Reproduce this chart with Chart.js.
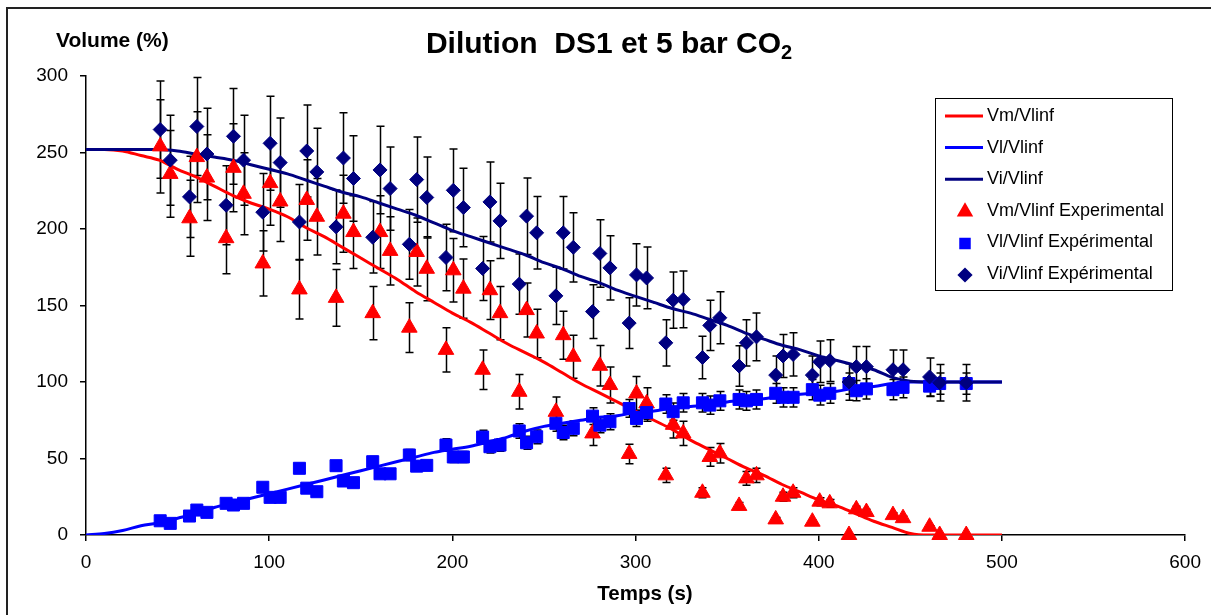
<!DOCTYPE html>
<html>
<head>
<meta charset="utf-8">
<script src="https://cdn.jsdelivr.net/npm/chart.js@4.4.1/dist/chart.umd.min.js"></script>
<style>
  html, body { margin: 0; padding: 0; background: #fff; }
</style>
</head>
<body>
<canvas id="chart" width="1211" height="615"></canvas>
<script>
// model curves, read every 10 s
var modelTime = [0, 10, 20, 30, 40, 50, 60, 70, 80, 90,
  100, 110, 120, 130, 140, 150, 160, 170, 180, 190,
  200, 210, 220, 230, 240, 250, 260, 270, 280, 290,
  300, 310, 320, 330, 340, 350, 360, 370, 380, 390,
  400, 410, 420, 430, 440, 450, 460, 470, 480, 490, 500];
var vmModel = [252, 252, 251, 248, 245, 239, 234, 228, 222, 217,
  213, 208, 201, 195, 188, 181, 174, 167, 159, 152,
  145, 139, 132, 125, 119, 113, 106, 99, 93, 87,
  81, 75, 69, 62, 56, 50, 44, 39, 33, 28,
  23, 19, 14, 9, 5, 1, 0, 0, 0, 0, 0];
var vlModel = [0, 1, 3, 6, 8, 11, 14, 18, 21, 24,
  27, 30, 33, 36, 39, 42, 45, 48, 51, 54,
  56, 58, 61, 64, 68, 71, 73, 75, 77, 78,
  80, 81, 83, 84, 85, 87, 88, 89, 91, 92,
  93, 94, 96, 97, 99, 100, 100, 100, 100, 100, 100];
var viModel = [252, 252, 252, 252, 252, 251, 249, 247, 245, 242,
  239, 236, 232, 228, 224, 221, 217, 213, 209, 204,
  199, 195, 191, 187, 183, 178, 174, 169, 165, 160,
  156, 152, 148, 145, 141, 137, 132, 128, 124, 121,
  117, 114, 111, 108, 103, 100.5, 100, 100, 100, 100, 100];

// experimental points
var expTime = [40.5, 46, 56.5, 60.5, 66, 76.5, 80.5, 86, 96.5,
  100.5, 106, 116.5, 120.5, 126, 136.5, 140.5, 146, 156.5,
  160.5, 166, 176.5, 180.5, 186, 196.5, 200.5, 206, 216.5,
  220.5, 226, 236.5, 240.5, 246, 256.5, 260.5, 266, 276.5,
  280.5, 286, 296.5, 300.5, 306, 316.5, 320.5, 326, 336.5,
  340.5, 346, 356.5, 360.5, 366, 376.5, 380.5, 386, 396.5,
  400.5, 406, 416.5, 420.5, 426, 440.5, 446, 460.5, 466, 480.5];
var vmExp = [254, 236, 207, 247, 233.6, 194, 240, 223, 177.5,
  230, 218, 160.5, 219, 208, 155, 210, 198, 145,
  198, 185.7, 135.5, 185, 174, 121, 173, 161, 108,
  160, 145, 93.6, 147, 131.7, 80.5, 130.6, 116.5, 66.4,
  110.6, 98, 53, 92.5, 86, 39, 72, 66.4, 27.6,
  51, 53.4, 19, 37, 39, 10.2, 25, 27.6, 8.7,
  21.8, 20.7, 0, 16.8, 15, 13, 11, 5.4, 0, 0];
var vlExp = [9.3, 7.6, 12.4, 16.3, 14.8, 20.7, 19.6, 20.7, 31.2,
  24.6, 24.6, 43.6, 30.6, 28.3, 45.3, 35.3, 34.2, 47.9,
  40, 40, 52.3, 45, 45.5, 58.8, 51, 51, 64,
  57.7, 58.8, 68, 60.3, 64.2, 73, 67, 69.7, 77.7,
  71.8, 74, 82.7, 76.2, 80, 85.6, 80.6, 86.4, 86.4,
  84.9, 87.7, 88.6, 87.7, 88.6, 92.6, 90, 90, 95,
  91.4, 92.6, 99, 94.3, 95.5, 95, 96.5, 97.3, 99, 99];
var viExp = [265, 245, 221, 267, 249, 215.5, 260.6, 245, 211,
  256, 243.4, 204.6, 251, 237.3, 201.4, 246.4, 233, 194.6,
  238.6, 226.4, 190, 232.3, 220.6, 181.4, 225.3, 214, 174.2,
  217.7, 205.3, 164, 208.4, 197.5, 156.3, 197.5, 188, 146,
  184, 174.6, 138.5, 170, 168, 125.6, 153.5, 154, 116,
  137, 142, 110.4, 125.6, 129.5, 104.5, 117, 118, 104.5,
  113.2, 114, 100, 110, 110, 108, 108, 103.3, 99.5, 99.5];

// percentage error bars (as set in the spreadsheet)
var vmErrPct = 12;
var vlErrPct = 7;
var viErrPct = 12;

var xTicks = [0, 100, 200, 300, 400, 500, 600];
var yTicks = [0, 50, 100, 150, 200, 250, 300];

var FONT = "'Liberation Sans', Arial, sans-serif";

function pts(xs, ys) {
  return xs.map(function (x, i) { return { x: x, y: ys[i] }; });
}

// error bars, drawn under the markers
var errorBars = {
  id: "errorBars",
  beforeDatasetsDraw: function (chart) {
    var ctx = chart.ctx, sx = chart.scales.x, sy = chart.scales.y;
    ctx.save();
    ctx.strokeStyle = "#000";
    ctx.lineWidth = 1.5;
    chart.data.datasets.forEach(function (ds) {
      if (!ds.errPct) return;
      ds.data.forEach(function (p) {
        var e = p.y * ds.errPct / 100;
        var x = Math.round(sx.getPixelForValue(p.x)) + 0.5;
        var y1 = sy.getPixelForValue(p.y + e);
        var y2 = sy.getPixelForValue(p.y - e);
        ctx.beginPath();
        ctx.moveTo(x, y1); ctx.lineTo(x, y2);
        ctx.moveTo(x - 4, y1); ctx.lineTo(x + 4, y1);
        ctx.moveTo(x - 4, y2); ctx.lineTo(x + 4, y2);
        ctx.stroke();
      });
    });
    ctx.restore();
  }
};

// frame, titles and boxed legend
var decor = {
  id: "decor",
  afterDraw: function (chart) {
    var ctx = chart.ctx;
    ctx.save();
    ctx.strokeStyle = "#222";
    ctx.lineWidth = 2;
    ctx.beginPath();
    ctx.moveTo(7, 615); ctx.lineTo(7, 8); ctx.lineTo(1211, 8);
    ctx.stroke();

    ctx.fillStyle = "#000";
    ctx.textBaseline = "alphabetic";
    ctx.font = "bold 30px " + FONT;
    var main = "Dilution  DS1 et 5 bar CO";
    var w1 = ctx.measureText(main).width;
    ctx.font = "bold 20px " + FONT;
    var w2 = ctx.measureText("2").width;
    var x0 = 609 - (w1 + w2) / 2;
    ctx.font = "bold 30px " + FONT;
    ctx.textAlign = "left";
    ctx.fillText(main, x0, 53);
    ctx.font = "bold 20px " + FONT;
    ctx.fillText("2", x0 + w1, 59);

    ctx.font = "bold 21px " + FONT;
    ctx.fillText("Volume (%)", 56, 47);

    ctx.font = "bold 20.5px " + FONT;
    ctx.textAlign = "center";
    ctx.fillText("Temps (s)", 645, 600);
    ctx.textAlign = "left";

    // legend
    ctx.lineWidth = 1;
    ctx.strokeStyle = "#000";
    ctx.strokeRect(935.5, 98.5, 237, 192);
    ctx.font = "18px " + FONT;
    ctx.textBaseline = "middle";
    chart.data.datasets.forEach(function (ds, i) {
      var y = 116 + i * 31.6;
      if (ds.showLine) {
        ctx.strokeStyle = ds.borderColor;
        ctx.lineWidth = 3;
        ctx.beginPath();
        ctx.moveTo(945, y); ctx.lineTo(983, y);
        ctx.stroke();
      } else {
        ctx.fillStyle = ds.backgroundColor;
        ctx.strokeStyle = ds.borderColor;
        Chart.helpers.drawPoint(ctx, {
          pointStyle: ds.pointStyle, radius: ds.legendRadius, rotation: 0, borderWidth: 1
        }, 965, y + 1);
      }
      ctx.fillStyle = "#000";
      ctx.fillText(ds.label, 987, y);
    });
    ctx.restore();
  }
};

function lineSet(label, ys, color, order) {
  return {
    label: label, data: pts(modelTime, ys), showLine: true,
    borderColor: color, backgroundColor: color, borderWidth: 3,
    pointRadius: 0, cubicInterpolationMode: "monotone", order: order
  };
}
function expSet(label, ys, color, style, r, lr, err, order) {
  return {
    label: label, data: pts(expTime, ys), showLine: false,
    borderColor: color, backgroundColor: color, borderWidth: 1,
    pointStyle: style, pointRadius: r, legendRadius: lr,
    errPct: err, clip: false, order: order
  };
}

var tickFont = { family: FONT, size: 19 };

new Chart(document.getElementById("chart"), {
  type: "scatter",
  data: {
    datasets: [
      lineSet("Vm/Vlinf", vmModel, "#FF0000", 6),
      lineSet("Vl/Vlinf", vlModel, "#0000FF", 5),
      lineSet("Vi/Vlinf", viModel, "#000080", 4),
      expSet("Vm/Vlinf Experimental", vmExp, "#FF0000", "triangle", 9, 6.5, vmErrPct, 3),
      expSet("Vl/Vlinf Expérimental", vlExp, "#0000FF", "rect", 8.5, 6, vlErrPct, 2),
      expSet("Vi/Vlinf Expérimental", viExp, "#000080", "rectRot", 7, 5.5, viErrPct, 1)
    ]
  },
  options: {
    responsive: false,
    animation: false,
    events: [],
    layout: { padding: { top: 76, right: 25, left: 0, bottom: 0 } },
    plugins: { legend: { display: false }, tooltip: { enabled: false } },
    scales: {
      x: {
        type: "linear", min: 0, max: 600,
        afterBuildTicks: function (s) { s.ticks = xTicks.map(function (v) { return { value: v }; }); },
        afterFit: function (s) { s.height = 80; },
        ticks: { color: "#000", font: tickFont, padding: 10, maxRotation: 0 },
        grid: { drawOnChartArea: false, tickLength: 6, color: "#000", lineWidth: 1.5 },
        border: { color: "#000", width: 1.5 }
      },
      y: {
        type: "linear", min: 0, max: 300,
        afterBuildTicks: function (s) { s.ticks = yTicks.map(function (v) { return { value: v }; }); },
        afterFit: function (s) { s.width = 86; },
        ticks: { color: "#000", font: tickFont, padding: 12 },
        grid: { drawOnChartArea: false, tickLength: 6, color: "#000", lineWidth: 1.5 },
        border: { color: "#000", width: 1.5 }
      }
    }
  },
  plugins: [errorBars, decor]
});
</script>
</body>
</html>
